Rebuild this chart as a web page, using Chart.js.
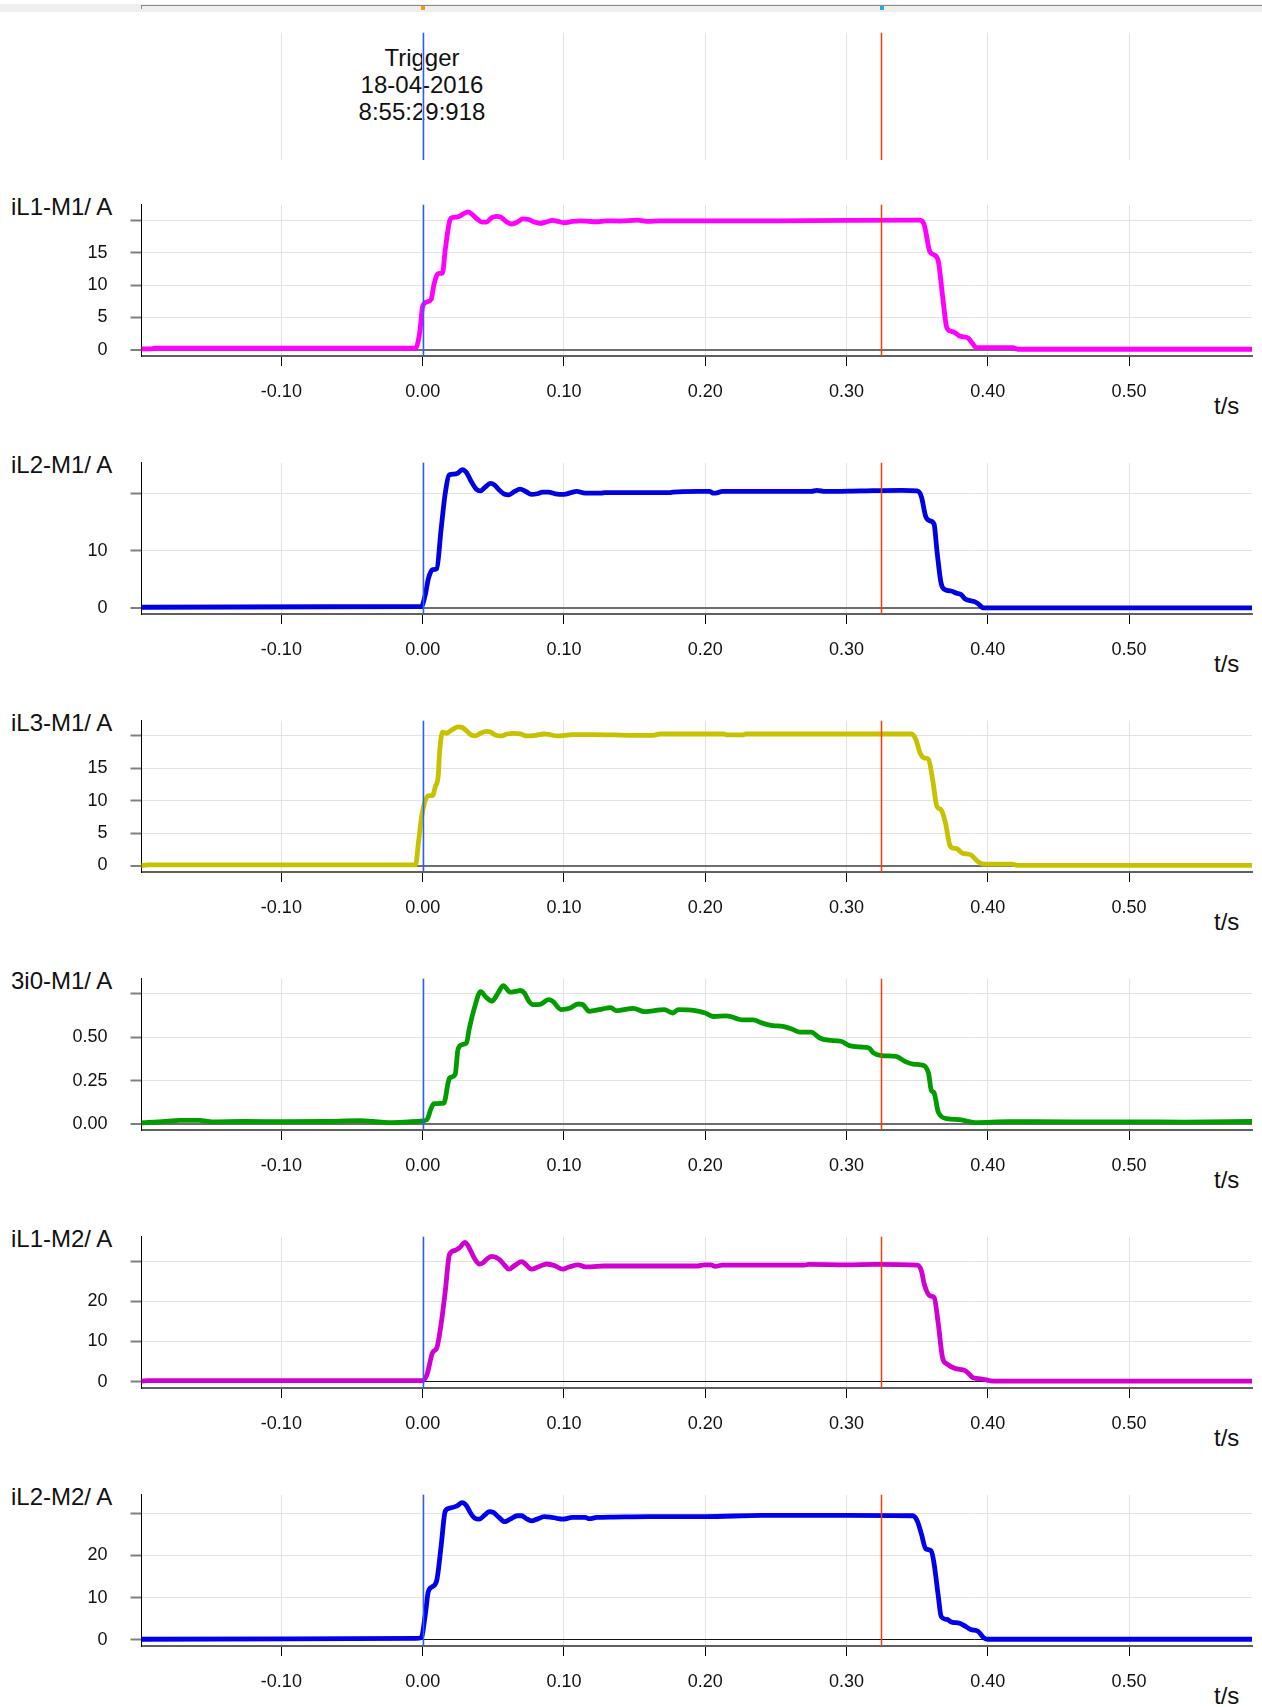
<!DOCTYPE html>
<html lang="en">
<head>
  <meta charset="UTF-8">
  <title>Fault record</title>
  <script src="https://cdn.jsdelivr.net/npm/chart.js@4.4.1/dist/chart.umd.min.js"></script>
  <style>
    body { margin: 0; background: #fff; overflow: hidden; font-family: "Liberation Sans", Arial, sans-serif; color: #111; }
    #page { position: relative; width: 1262px; height: 1707px; }
    canvas { position: absolute; left: 0; z-index: 1; }
    .lbl { position: absolute; font-size: 24px; line-height: 24px; white-space: nowrap; z-index: 0; }
    #trig { position: absolute; left: 322px; top: 44px; width: 200px; text-align: center; font-size: 24px; line-height: 27.2px; z-index: 0; }
    #band { position: absolute; left: 0; top: 4px; width: 1262px; height: 8px; background: #eeeeee; }
    #rule { position: absolute; left: 141px; top: 5px; right: 0; height: 1px; background: #8a8a8a; }
    #ruleEnd { position: absolute; left: 141px; top: 5px; width: 1px; height: 4px; background: #8a8a8a; }
    .mk { position: absolute; top: 6px; width: 4px; height: 4px; }
  </style>
</head>
<body>
<div id="page">
  <div id="band"></div>
  <div id="rule"></div>
  <div id="ruleEnd"></div>
  <div class="mk" style="left:421px;background:#f0a000"></div>
  <div class="mk" style="left:880px;background:#20b0d0"></div>
  <div id="trig">Trigger<br>18-04-2016<br>8:55:29:918</div>
  <canvas id="c0" width="1262" height="180" style="top:0"></canvas>
</div>

<script>
  // time axis (s)
  const tMin = -0.199, tMax = 0.587;
  const xTicks = [-0.1, 0, 0.1, 0.2, 0.3, 0.4, 0.5];
  const triggerTime = 0;
  const cursorTime = 0.3246;

  const panelNames = ['iL1-M1/ A', 'iL2-M1/ A', 'iL3-M1/ A', '3i0-M1/ A', 'iL1-M2/ A', 'iL2-M2/ A'];
  const yMin = [-1.0, -1.0, -1.0, -0.035, -1.6, -1.5];
  const yMax = [22.5, 25.3, 22.35, 0.838, 36.1, 34.4];
  const yTicks = [[0, 5, 10, 15, 20], [0, 10, 20], [0, 5, 10, 15, 20], [0, 0.25, 0.5, 0.75], [0, 10, 20, 30], [0, 10, 20, 30]];
  const yDecimals = [0, 0, 0, 2, 0, 0];

  // [t, value]
  const iL1_M1 = [[-0.199,0.1],[-0.192,0.1],[-0.190,0.2],[-0.005,0.2],[-0.002,2.8],[0.000,6.7],[0.003,7.4],[0.006,7.8],[0.008,10.1],[0.011,11.8],[0.014,11.9],[0.016,15.5],[0.019,19.9],[0.021,20.5],[0.025,20.6],[0.029,21.1],[0.032,21.4],[0.035,21.0],[0.039,20.2],[0.042,19.8],[0.045,19.8],[0.049,20.5],[0.052,20.7],[0.055,20.6],[0.059,19.9],[0.063,19.5],[0.067,19.8],[0.071,20.3],[0.075,20.2],[0.079,19.8],[0.083,19.6],[0.087,19.8],[0.092,20.05],[0.096,19.9],[0.100,19.7],[0.106,19.9],[0.112,20.0],[0.118,19.9],[0.123,19.85],[0.130,20.0],[0.140,19.95],[0.152,20.1],[0.160,19.9],[0.168,20.0],[0.250,20.0],[0.352,20.1],[0.355,19.4],[0.359,15.2],[0.362,14.7],[0.365,13.7],[0.368,8.3],[0.371,3.4],[0.374,2.85],[0.377,2.6],[0.380,2.1],[0.386,1.8],[0.389,1.0],[0.392,0.3],[0.418,0.3],[0.421,0.05],[0.587,0.05]];
  const iL2_M1 = [[-0.199,0.17],[-0.001,0.3],[0.002,2.5],[0.004,5.1],[0.007,6.7],[0.010,6.9],[0.013,13.6],[0.016,20.0],[0.019,23.2],[0.022,23.3],[0.025,23.5],[0.028,24.1],[0.031,23.6],[0.034,22.2],[0.038,20.7],[0.041,20.4],[0.044,21.0],[0.048,21.7],[0.051,21.4],[0.054,20.6],[0.058,19.8],[0.061,19.7],[0.065,20.3],[0.069,20.7],[0.073,20.3],[0.077,19.8],[0.081,19.9],[0.085,20.2],[0.089,20.2],[0.094,19.9],[0.100,19.8],[0.105,20.1],[0.109,20.3],[0.115,20.0],[0.126,20.0],[0.129,20.1],[0.175,20.1],[0.177,20.2],[0.195,20.3],[0.203,20.3],[0.206,20.0],[0.209,20.1],[0.212,20.3],[0.275,20.3],[0.279,20.5],[0.285,20.3],[0.310,20.4],[0.339,20.5],[0.350,20.4],[0.353,19.4],[0.356,16.0],[0.359,15.2],[0.362,14.6],[0.364,10.0],[0.367,4.3],[0.370,3.2],[0.374,3.0],[0.378,2.6],[0.381,2.4],[0.384,1.6],[0.388,1.3],[0.391,1.1],[0.393,0.8],[0.397,0.05],[0.587,0.05]];
  const iL3_M1 = [[-0.199,0.0],[-0.195,0.1],[-0.005,0.1],[-0.003,3.5],[-0.001,7.1],[0.001,9.4],[0.004,10.8],[0.007,10.8],[0.009,12.2],[0.011,13.8],[0.012,17.5],[0.014,20.6],[0.017,20.4],[0.019,20.7],[0.022,21.1],[0.025,21.4],[0.028,21.3],[0.031,20.8],[0.034,20.2],[0.037,20.0],[0.041,20.4],[0.045,20.7],[0.048,20.6],[0.052,20.1],[0.055,20.0],[0.060,20.3],[0.064,20.4],[0.069,20.3],[0.074,20.0],[0.080,20.1],[0.086,20.3],[0.090,20.2],[0.095,20.0],[0.106,20.2],[0.120,20.2],[0.135,20.15],[0.151,20.1],[0.163,20.1],[0.168,20.3],[0.213,20.3],[0.216,20.15],[0.226,20.15],[0.229,20.3],[0.346,20.3],[0.349,19.5],[0.352,17.4],[0.355,16.6],[0.358,16.4],[0.361,13.2],[0.364,9.1],[0.367,8.6],[0.370,6.6],[0.373,3.2],[0.375,2.7],[0.378,2.6],[0.382,1.9],[0.388,1.65],[0.393,0.6],[0.397,0.2],[0.417,0.2],[0.421,0.02],[0.587,0.02]];
  const i3i0_M1 = [[-0.199,0.006],[-0.184,0.013],[-0.172,0.02],[-0.158,0.02],[-0.149,0.012],[-0.126,0.014],[-0.097,0.013],[-0.070,0.014],[-0.044,0.019],[-0.035,0.014],[-0.024,0.008],[-0.010,0.012],[0.000,0.017],[0.003,0.025],[0.006,0.09],[0.008,0.117],[0.015,0.12],[0.018,0.237],[0.019,0.265],[0.023,0.285],[0.025,0.43],[0.028,0.458],[0.031,0.467],[0.033,0.55],[0.037,0.68],[0.041,0.763],[0.045,0.73],[0.049,0.708],[0.053,0.75],[0.057,0.798],[0.062,0.76],[0.066,0.765],[0.069,0.77],[0.072,0.756],[0.075,0.71],[0.078,0.688],[0.083,0.69],[0.089,0.717],[0.092,0.708],[0.098,0.66],[0.104,0.667],[0.110,0.692],[0.113,0.69],[0.118,0.65],[0.122,0.655],[0.127,0.663],[0.133,0.671],[0.137,0.654],[0.140,0.656],[0.149,0.667],[0.157,0.648],[0.171,0.66],[0.177,0.64],[0.181,0.66],[0.193,0.654],[0.200,0.64],[0.206,0.62],[0.215,0.623],[0.227,0.60],[0.234,0.60],[0.240,0.583],[0.248,0.567],[0.255,0.563],[0.262,0.545],[0.267,0.53],[0.275,0.53],[0.281,0.496],[0.287,0.483],[0.296,0.477],[0.302,0.452],[0.310,0.444],[0.316,0.438],[0.319,0.41],[0.325,0.394],[0.335,0.39],[0.342,0.358],[0.348,0.344],[0.353,0.34],[0.358,0.294],[0.360,0.194],[0.362,0.179],[0.365,0.067],[0.371,0.031],[0.380,0.025],[0.391,0.008],[0.415,0.013],[0.458,0.012],[0.500,0.012],[0.540,0.011],[0.587,0.014]];
  const iL1_M2 = [[-0.199,0.1],[-0.194,0.25],[0.000,0.25],[0.003,1.7],[0.007,7.2],[0.010,8.4],[0.013,14.2],[0.016,22.5],[0.019,31.7],[0.023,32.7],[0.026,33.3],[0.030,34.7],[0.034,32.6],[0.037,30.5],[0.040,29.3],[0.043,29.7],[0.046,30.7],[0.049,31.2],[0.054,30.5],[0.058,29.0],[0.061,28.0],[0.065,28.9],[0.070,29.9],[0.073,29.2],[0.077,28.0],[0.082,28.6],[0.088,29.3],[0.094,28.8],[0.099,28.0],[0.104,28.6],[0.110,29.1],[0.115,28.6],[0.119,28.6],[0.128,28.8],[0.195,28.8],[0.199,29.1],[0.204,29.1],[0.207,28.7],[0.212,29.0],[0.270,29.0],[0.273,29.2],[0.300,29.1],[0.320,29.2],[0.350,29.0],[0.353,27.6],[0.355,24.3],[0.359,21.4],[0.362,21.0],[0.365,14.25],[0.368,5.9],[0.371,4.4],[0.377,3.25],[0.384,2.75],[0.390,0.9],[0.395,0.7],[0.404,0.1],[0.587,0.1]];
  const iL2_M2 = [[-0.199,0.1],[-0.005,0.3],[-0.001,0.5],[0.002,6.3],[0.004,11.4],[0.007,12.6],[0.010,14.1],[0.013,22.0],[0.016,30.5],[0.019,31.2],[0.024,31.7],[0.028,32.5],[0.031,31.8],[0.034,30.0],[0.037,28.8],[0.040,28.6],[0.044,29.6],[0.047,30.4],[0.050,30.2],[0.054,29.0],[0.058,28.0],[0.062,28.6],[0.067,29.4],[0.070,29.4],[0.073,28.8],[0.077,28.2],[0.081,28.6],[0.086,29.2],[0.090,29.1],[0.095,28.8],[0.099,28.6],[0.106,29.0],[0.115,29.0],[0.118,28.7],[0.123,29.0],[0.135,29.1],[0.160,29.2],[0.200,29.2],[0.240,29.5],[0.300,29.5],[0.347,29.4],[0.350,28.2],[0.353,25.1],[0.356,21.6],[0.360,21.0],[0.362,18.0],[0.365,10.2],[0.367,5.5],[0.371,4.8],[0.375,4.1],[0.379,4.0],[0.384,3.2],[0.388,2.4],[0.393,2.0],[0.397,0.5],[0.400,0.1],[0.587,0.1]];

  const series = [iL1_M1, iL2_M1, iL3_M1, i3i0_M1, iL1_M2, iL2_M2];
  const colors = ['#ff00ff', '#0000e0', '#c6c200', '#009c00', '#d000d0', '#0000ee'];
  const zeroLine = [['#6e6e6e', 2], ['#6e6e6e', 2], ['#6e6e6e', 2], ['#6e6e6e', 2], ['#111', 1], ['#111', 1]];

  Chart.defaults.font.family = '"Liberation Sans", Arial, sans-serif';
  Chart.defaults.font.size = 18;
  Chart.defaults.color = '#111';

  const GRID = '#e2e2e2';
  const PANEL_TOP = 180, PANEL_H = 258;

  // trigger & cursor lines
  const markerLines = {
    id: 'markerLines',
    afterDatasetsDraw(chart) {
      const { ctx, chartArea: a, scales: { x } } = chart;
      [[triggerTime, '#2a5cff'], [cursorTime, '#ff3a00']].forEach(([t, c]) => {
        const px = Math.round(x.getPixelForValue(t)) + 0.5;
        ctx.save();
        ctx.strokeStyle = c;
        ctx.lineWidth = 1.5;
        ctx.beginPath();
        ctx.moveTo(px, a.top);
        ctx.lineTo(px, a.bottom);
        ctx.stroke();
        ctx.restore();
      });
    }
  };

  const setXTicks = s => { s.ticks = xTicks.map(v => ({ value: v })); };

  // header strip with trigger time
  new Chart(document.getElementById('c0'), {
    type: 'line',
    data: { datasets: [] },
    options: {
      responsive: false, animation: false, events: [],
      layout: { padding: { left: 141.5, right: 10, top: 32.7, bottom: 20 } },
      plugins: { legend: { display: false }, tooltip: { enabled: false } },
      scales: {
        x: {
          type: 'linear', min: tMin, max: tMax,
          afterBuildTicks: setXTicks,
          afterFit: s => { s.height = 0; },
          grid: { color: GRID, drawTicks: false },
          border: { display: false },
          ticks: { display: false }
        },
        y: { display: false, min: 0, max: 1 }
      }
    },
    plugins: [markerLines]
  });

  const page = document.getElementById('page');

  series.forEach((pts, i) => {
    const top = PANEL_TOP + PANEL_H * i;

    const name = document.createElement('div');
    name.className = 'lbl';
    name.style.left = '11px';
    name.style.top = (top + 15) + 'px';
    name.textContent = panelNames[i];
    page.appendChild(name);

    const unit = document.createElement('div');
    unit.className = 'lbl';
    unit.style.left = '1214px';
    unit.style.top = (top + 214) + 'px';
    unit.textContent = 't/s';
    page.appendChild(unit);

    const cv = document.createElement('canvas');
    cv.width = 1262;
    cv.height = PANEL_H;
    cv.style.top = top + 'px';
    page.appendChild(cv);

    new Chart(cv, {
      type: 'line',
      data: {
        datasets: [{
          data: pts.map(([x, y]) => ({ x, y })),
          borderColor: colors[i],
          borderWidth: 4.8,
          pointRadius: 0,
          cubicInterpolationMode: 'monotone',
          borderJoinStyle: 'round',
          borderCapStyle: 'round'
        }]
      },
      options: {
        responsive: false, animation: false, events: [],
        layout: { padding: { left: 0, right: 10, top: 24.7, bottom: 0 } },
        plugins: { legend: { display: false }, tooltip: { enabled: false } },
        scales: {
          x: {
            type: 'linear', min: tMin, max: tMax,
            afterBuildTicks: setXTicks,
            afterFit: s => { s.height = 82; },
            grid: { color: GRID, lineWidth: 1, tickLength: 10, tickColor: '#000', tickWidth: 1 },
            border: { color: '#606060', width: 2 },
            ticks: { padding: 15, maxRotation: 0, autoSkip: false, callback: v => v.toFixed(2) }
          },
          y: {
            min: yMin[i], max: yMax[i],
            afterBuildTicks: s => { s.ticks = yTicks[i].map(v => ({ value: v })); },
            afterFit: s => { s.width = 141.5; s.paddingTop = 0; s.paddingBottom = 0; },
            grid: {
              color: c => (c.tick && c.tick.value === 0) ? zeroLine[i][0] : GRID,
              lineWidth: c => (c.tick && c.tick.value === 0) ? zeroLine[i][1] : 1,
              tickLength: 11, tickColor: '#808080', tickWidth: 2
            },
            border: { color: '#000', width: 1 },
            ticks: {
              padding: 23,
              callback: (v, idx, ticks) => idx === ticks.length - 1 ? '' : v.toFixed(yDecimals[i])
            }
          }
        }
      },
      plugins: [markerLines]
    });
  });
</script>
</body>
</html>
